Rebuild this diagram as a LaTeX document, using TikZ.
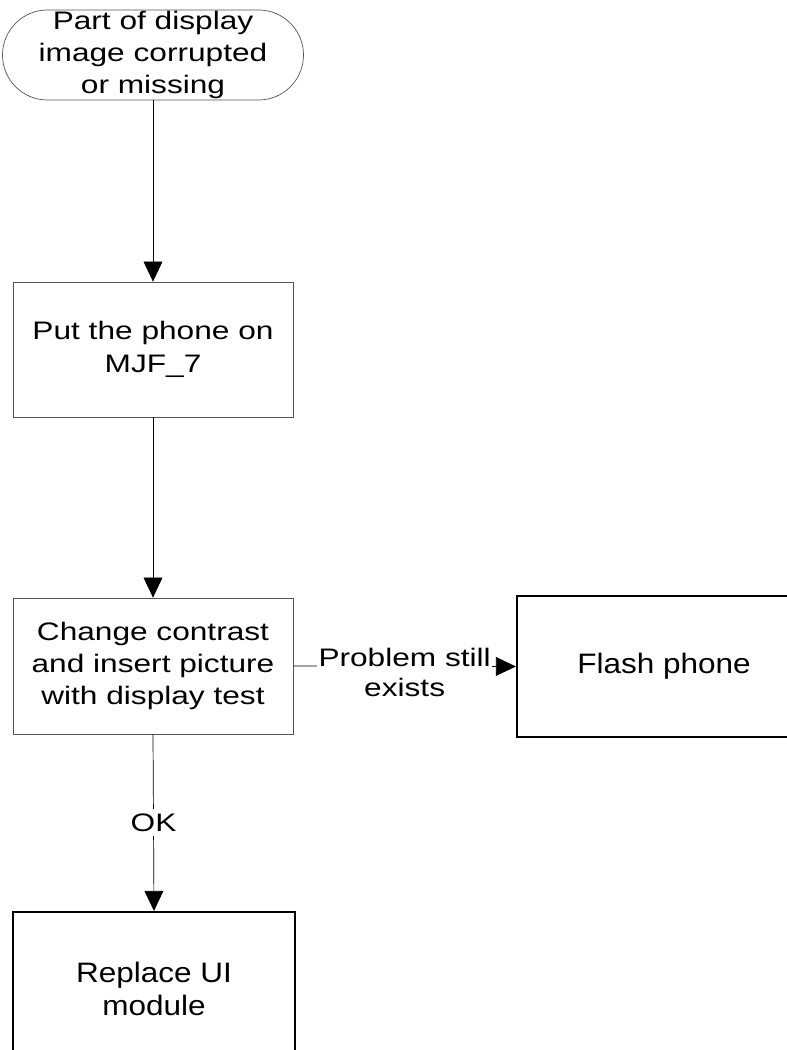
\documentclass[tikz,border=0pt]{standalone}
\usepackage{fontspec}
\setmainfont{Liberation Sans}
\newfontfamily\boxfont[FakeStretch=1.25]{Liberation Sans}
\newfontfamily\bigboxfont[FakeStretch=1.12]{Liberation Sans}
\usepackage{tikz}
\usetikzlibrary{shapes.misc, arrows.meta, positioning}
\definecolor{thinline}{RGB}{85, 85, 85}

\begin{document}
\begin{tikzpicture}[
    x=0.025cm, y=-0.025cm,
    >={Triangle[length=0.5cm, width=0.47cm]},
    % Box Styles
    termbox/.style={rounded rectangle, draw=thinline, line width=0.5pt, align=center, minimum width=7cm, minimum height=2.25cm, inner sep=0pt, font=\boxfont\fontsize{18}{23}\selectfont},
    stepbox/.style={rectangle, draw=thinline, line width=0.5pt, align=center, minimum width=7cm, inner sep=0pt, font=\boxfont\fontsize{18}{23}\selectfont},
    endbox/.style={rectangle, draw=black, line width=1.5pt, align=center, inner sep=0pt, font=\bigboxfont\fontsize{20}{24}\selectfont},
    % Arrow Styles
    flowarrow/.style={->, line width=0.5pt, color=black},
    lbl/.style={fill=white, inner sep=3pt, align=center, font=\boxfont\fontsize{18}{21.5}\selectfont}
]
    \clip (0,0) rectangle (787,1050);

    % =========================================================================
    % 1. START AND CHECK STEPS
    % =========================================================================
    \node (start) [termbox] at (153, 55) {Part of display\\image corrupted\\or missing};
    \node (putphone) [stepbox, minimum height=3.375cm] at (153, 349.5) {Put the phone on\\MJF\_7};
    \node (contrast) [stepbox, minimum height=3.4cm] at (153, 666) {Change contrast\\and insert picture\\with display test};

    % =========================================================================
    % 2. OUTCOMES
    % =========================================================================
    \node (flash) [endbox, minimum width=7.35cm, minimum height=3.525cm] at (664, 666.5) {Flash phone};
    \node (replace) [endbox, minimum width=7.05cm, minimum height=3.85cm] at (154, 989) {Replace UI\\module};

    % =========================================================================
    % CONNECTIONS
    % =========================================================================
    \draw[flowarrow] (start.south) -- (putphone.north);
    \draw[flowarrow] (putphone.south) -- (contrast.north);
    \draw[flowarrow] (contrast.east) -- (flash.west)
      node[midway, lbl, inner xsep=1pt, yshift=-0.15cm] {Problem still\\exists};
    \draw[flowarrow] (contrast.south) -- (replace.north)
      node[midway, lbl] {OK};

\end{tikzpicture}
\end{document}
